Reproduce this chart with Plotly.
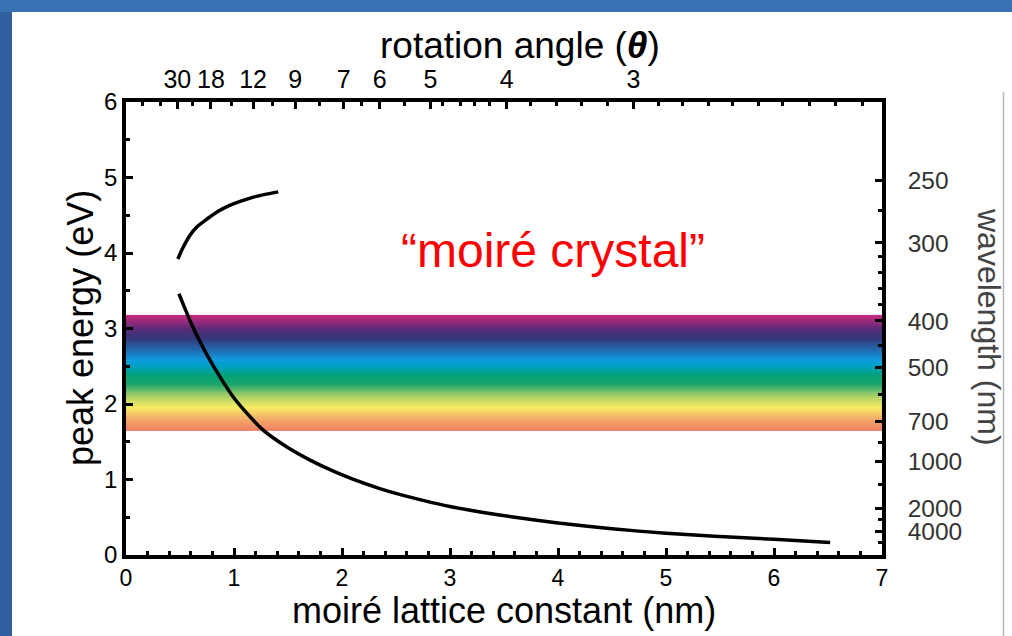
import numpy as np
import plotly.graph_objects as go

# ---------------- data ----------------
lower_L = [0.49, 0.55, 0.60, 0.67, 0.75, 0.87, 1.00, 1.15, 1.27, 1.49, 1.70, 1.92, 2.10,
           2.35, 2.55, 2.75, 3.00, 3.28, 3.60, 4.00, 4.50, 5.00, 5.45, 6.00, 6.52]
lower_E = [3.46, 3.25, 3.08, 2.87, 2.65, 2.36, 2.08, 1.83, 1.654, 1.43, 1.26, 1.11, 1.005,
           0.88, 0.796, 0.724, 0.643, 0.57, 0.50, 0.425, 0.347, 0.288, 0.25, 0.208, 0.166]

upper_L = [0.48, 0.52, 0.59, 0.66, 0.75, 0.85, 0.96, 1.07, 1.18, 1.30, 1.41]
upper_E = [3.92, 4.05, 4.23, 4.35, 4.45, 4.55, 4.63, 4.69, 4.74, 4.78, 4.81]

x_ticks = [0, 1, 2, 3, 4, 5, 6, 7]
y_ticks = [0, 1, 2, 3, 4, 5, 6]

angle_labels = [30, 18, 12, 9, 7, 6, 5, 4, 3]
angle_minor_nm = [0.155, 0.315, 0.62, 0.979, 1.361, 1.787, 2.182, 2.583, 2.935, 3.093,
                  3.231, 3.370, 3.741, 3.988, 4.219, 4.454, 4.926, 5.157, 5.389, 5.620,
                  5.852, 6.083, 6.333, 6.565, 6.815]

wavelength_labels = [250, 300, 400, 500, 700, 1000, 2000, 4000]
wavelength_minor_eV = [4.565, 3.95, 3.737, 3.524, 3.324, 2.77, 2.128, 1.489, 0.931, 0.465, 0.16]

band_low_eV, band_high_eV = 1.65, 3.18   # visible spectrum band

HC = 1239.84        # eV*nm
A_LATTICE = 0.246   # nm

# ---------------- layout geometry ----------------
W, H = 1012, 636
PL, PR, PT, PB = 126, 882, 102, 555


def px2x(px):
    return (px - PL) / (PR - PL)


def py2y(py):
    return (PB - py) / (PB - PT)


FONT = "Liberation Sans, Arial, Helvetica, sans-serif"

fig = go.Figure()

# rainbow band
n_rows = 160
band_edges = np.linspace(band_low_eV, band_high_eV, n_rows + 1)
band_centers = 0.5 * (band_edges[:-1] + band_edges[1:])
colorscale = [
    [0.00, "#ef7f66"], [0.10, "#f3a868"], [0.20, "#f8ec62"], [0.30, "#a8d068"],
    [0.40, "#1ea66c"], [0.48, "#00a27a"], [0.56, "#00a0c6"], [0.61, "#0d9ddf"],
    [0.70, "#2268ae"], [0.80, "#34357a"], [0.88, "#5a2a78"], [1.00, "#cc2a80"],
]
fig.add_trace(go.Heatmap(
    x=[x_ticks[0], x_ticks[-1]], y=band_edges, z=band_centers.reshape(-1, 1),
    colorscale=colorscale, zmin=band_low_eV, zmax=band_high_eV,
    showscale=False, hoverinfo="skip",
))

fig.add_trace(go.Scatter(x=lower_L, y=lower_E, mode="lines",
                         line=dict(color="black", width=3.5, shape="spline", smoothing=0.6),
                         showlegend=False))
fig.add_trace(go.Scatter(x=upper_L, y=upper_E, mode="lines",
                         line=dict(color="black", width=3.5, shape="spline", smoothing=0.6),
                         showlegend=False))

# dummy trace to activate secondary axes
fig.add_trace(go.Scatter(x=[None], y=[None], xaxis="x2", yaxis="y2", showlegend=False))

angle_pos = [A_LATTICE / (2 * np.sin(np.radians(a) / 2)) for a in angle_labels]
wl_pos = [HC / w for w in wavelength_labels]

axis_common = dict(showgrid=False, zeroline=False, showline=True, linewidth=3.5,
                   linecolor="black", ticks="inside", tickcolor="black", tickwidth=2.5,
                   ticklen=7)

fig.update_layout(
    width=W, height=H,
    margin=dict(l=PL, r=W - PR, t=PT, b=H - PB, pad=0),
    paper_bgcolor="white", plot_bgcolor="white",
    showlegend=False,
    xaxis=dict(range=[0, 7], tickmode="array", tickvals=x_ticks,
               ticktext=[str(v) for v in x_ticks],
               tickfont=dict(family=FONT, size=23, color="black"),
               minor=dict(tickmode="linear", tick0=0, dtick=0.2, ticks="inside",
                          ticklen=4, tickwidth=2.5, tickcolor="black"),
               **axis_common),
    yaxis=dict(range=[0, 6], tickmode="array", tickvals=y_ticks,
               ticktext=[str(v) for v in y_ticks],
               tickfont=dict(family=FONT, size=24, color="black"),
               minor=dict(tickmode="linear", tick0=0, dtick=0.5, ticks="inside",
                          ticklen=4, tickwidth=2.5, tickcolor="black"),
               **axis_common),
    xaxis2=dict(range=[0, 7], overlaying="x", side="top", anchor="y",
                tickmode="array", tickvals=angle_pos,
                ticktext=[str(a) for a in angle_labels],
                tickfont=dict(family=FONT, size=25, color="black"),
                minor=dict(tickmode="array", tickvals=angle_minor_nm, ticks="inside",
                           ticklen=4, tickwidth=2.5, tickcolor="black"),
                **axis_common),
    yaxis2=dict(range=[0, 6], overlaying="y", side="right", anchor="x",
                tickmode="array", tickvals=wl_pos,
                ticktext=[str(w) for w in wavelength_labels],
                tickfont=dict(family=FONT, size=24.5, color="#333333"),
                ticklabelstandoff=17,
                minor=dict(tickmode="array", tickvals=wavelength_minor_eV, ticks="inside",
                           ticklen=4, tickwidth=2.5, tickcolor="black"),
                **axis_common),
)

# slide decoration
fig.add_shape(type="rect", xref="paper", yref="paper", x0=px2x(0), x1=px2x(12),
              y0=py2y(H), y1=py2y(0), fillcolor="#2f5f9e", line_width=0, layer="below")
fig.add_shape(type="rect", xref="paper", yref="paper", x0=px2x(0), x1=px2x(W),
              y0=py2y(12), y1=py2y(0), fillcolor="#3a71b5", line_width=0, layer="below")
fig.add_shape(type="line", xref="paper", yref="paper", x0=px2x(1003.5), x1=px2x(1003.5),
              y0=py2y(H), y1=py2y(92), line=dict(color="#b8b8b8", width=1.5))

# texts
centered = dict(showarrow=False, xanchor="center", yanchor="middle")
fig.add_annotation(x=3.95, y=4.03, xref="x", yref="y", text="“moiré crystal”",
                   font=dict(family=FONT, size=48, color="#ff0000"), **centered)
fig.add_annotation(x=px2x(520), y=py2y(45), xref="paper", yref="paper",
                   text="rotation angle (<b><i>θ</i></b>)",
                   font=dict(family=FONT, size=37, color="black"), **centered)
fig.add_annotation(x=px2x(504), y=py2y(610), xref="paper", yref="paper",
                   text="moiré lattice constant (nm)",
                   font=dict(family=FONT, size=36, color="black"), **centered)
fig.add_annotation(x=px2x(80), y=py2y(328), xref="paper", yref="paper",
                   text="peak energy (eV)", textangle=-90,
                   font=dict(family=FONT, size=36, color="black"), **centered)
fig.add_annotation(x=px2x(989), y=py2y(327), xref="paper", yref="paper",
                   text="wavelength (nm)", textangle=90,
                   font=dict(family=FONT, size=32, color="#444444"), **centered)

fig.write_html("out.html", config={"displayModeBar": False},
               post_script="document.body.style.margin='0';")
